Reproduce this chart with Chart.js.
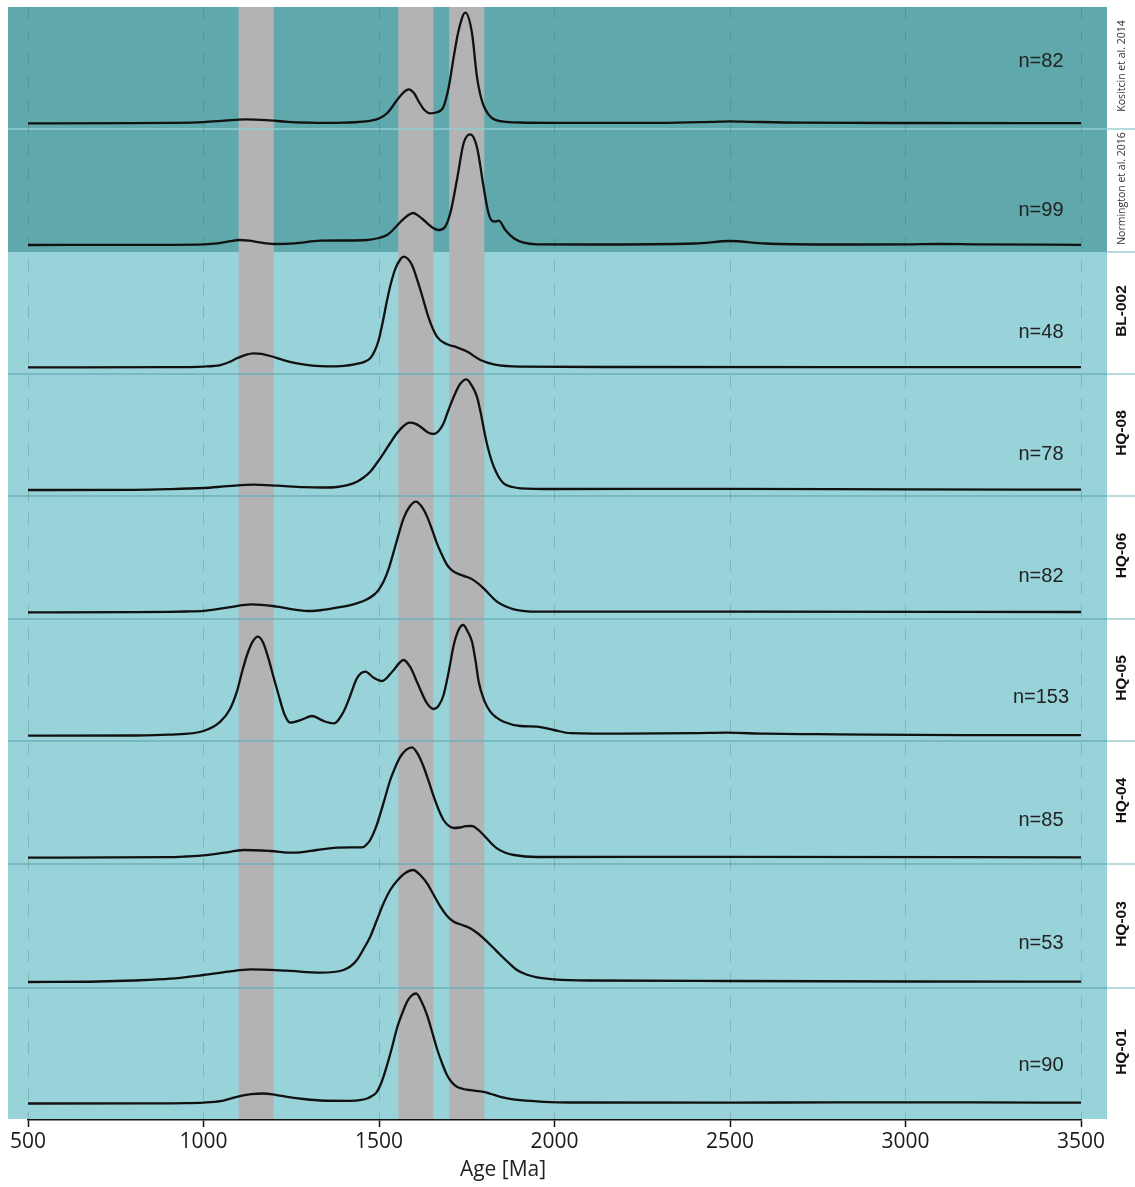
<!DOCTYPE html>
<html><head><meta charset="utf-8">
<script src="https://cdn.jsdelivr.net/npm/chart.js@4.4.1/dist/chart.umd.min.js"></script>
<style>html,body{margin:0;padding:0;background:#fff;}canvas{display:block;}</style>
</head><body>
<canvas id="c" width="1135" height="1187"></canvas>
<script>
// ---------- data ----------
const panelNames = ["Kositcin et al. 2014", "Normington et al. 2016", "BL-002", "HQ-08", "HQ-06", "HQ-05", "HQ-04", "HQ-03", "HQ-01"];
const sampleCounts = [82, 99, 48, 78, 82, 153, 85, 53, 90];
const ageTicks = [500, 1000, 1500, 2000, 2500, 3000, 3500];
const highlightBands = [[1100, 1200], [1555, 1655], [1700, 1800]];

const agesKositcin = [500, 800, 900, 1000, 1060, 1120, 1180, 1240, 1300, 1350, 1400, 1440, 1475, 1500, 1523, 1551, 1570, 1585, 1600, 1613, 1630, 1646, 1665, 1684, 1699, 1713, 1727, 1746, 1765, 1779, 1794, 1817, 1855, 1900, 2000, 2300, 2450, 2500, 2560, 2700, 3000, 3500];
const densKositcin = [0, 0.1, 0.4, 1.2, 2.6, 4, 3.2, 1.4, 0.6, 0.4, 0.7, 1.3, 2.5, 4.8, 10, 23, 31, 34, 30, 22, 13, 10, 11, 16.7, 36.7, 66.7, 93, 110.6, 90, 46.7, 21.7, 6.7, 1.7, 0.8, 0.5, 0.5, 1.5, 2, 1.5, 0.6, 0.3, 0.2];

const agesNormington = [500, 900, 1000, 1040, 1076, 1101, 1130, 1160, 1201, 1260, 1333, 1400, 1466, 1500, 1523, 1545, 1561, 1580, 1597, 1613, 1627, 1650, 1670, 1688, 1703, 1722, 1741, 1760, 1779, 1798, 1812, 1822, 1832, 1841, 1860, 1884, 1912, 1950, 2100, 2400, 2500, 2600, 2800, 3000, 3100, 3200, 3500];
const densNormington = [0, 0.2, 0.6, 1.6, 3.8, 5, 4.4, 2.6, 1, 1.6, 4.3, 4.5, 5, 7, 10, 17, 23, 29, 32, 29, 25, 18, 15, 18, 31.7, 65, 101.7, 110.7, 98, 58, 31.7, 24.3, 23.5, 24.3, 15, 6.7, 2.3, 0.7, 0.5, 1.5, 4, 1.5, 0.5, 0.6, 1, 0.6, 0.2];

const agesBL002 = [500, 900, 1000, 1048, 1072, 1095, 1120, 1143, 1165, 1190, 1230, 1266, 1310, 1352, 1400, 1430, 1460, 1475, 1487, 1499, 1510, 1523, 1534, 1547, 1561, 1570, 1582, 1594, 1618, 1642, 1665, 1694, 1722, 1751, 1789, 1827, 1903, 2200, 3500];
const densBL002 = [0, 0.1, 0.7, 2.2, 5, 9, 12.5, 14, 13.4, 11.3, 7, 4, 1.7, 0.9, 1.5, 3, 5.7, 9, 15.7, 27, 44, 67, 84, 99, 108, 110.7, 108.5, 102.3, 77.3, 49, 30.7, 23, 20, 15.7, 7.3, 3, 0.7, 0.3, 0.2];

const agesHQ08 = [500, 800, 900, 1000, 1070, 1143, 1210, 1285, 1340, 1380, 1410, 1437, 1456, 1475, 1494, 1513, 1532, 1551, 1570, 1587, 1603, 1618, 1640, 1656, 1670, 1684, 1698, 1713, 1731, 1749, 1765, 1779, 1791, 1803, 1815, 1827, 1841, 1855, 1880, 1903, 2000, 2500, 3000, 3500];
const densHQ08 = [0, 0.2, 0.8, 2, 3.8, 5.3, 4.3, 2.8, 2.5, 3, 4.8, 8.3, 12.5, 18.3, 27, 36.7, 47, 56.7, 64, 67.3, 66.3, 63.3, 57.5, 56, 59, 66.7, 80, 93.3, 106, 110.7, 104, 93.3, 75, 53.3, 36, 23.3, 13, 6.7, 3, 1.7, 1, 1.2, 0.6, 0.4];

const agesHQ06 = [500, 800, 900, 950, 1000, 1067, 1138, 1209, 1260, 1304, 1340, 1380, 1410, 1437, 1462, 1485, 1500, 1513, 1528, 1542, 1556, 1570, 1588, 1605, 1621, 1637, 1651, 1665, 1680, 1694, 1708, 1722, 1740, 1760, 1780, 1798, 1817, 1836, 1860, 1884, 1950, 2500, 3500];
const densHQ06 = [0, 0.1, 0.4, 0.8, 1.5, 4.7, 8, 5.7, 2.7, 1.3, 2.4, 4.7, 6.5, 9, 12.3, 17.3, 23, 30.7, 44, 60.7, 78, 94, 106, 110.7, 106, 95.7, 83, 69, 57, 47.3, 42, 39, 36.5, 34, 29.5, 24, 17, 10.7, 6, 3, 0.7, 0.7, 0.3];

const agesHQ05 = [500, 800, 900, 1000, 1048, 1076, 1095, 1110, 1124, 1140, 1155, 1170, 1185, 1200, 1214, 1230, 1247, 1280, 1309, 1340, 1371, 1399, 1418, 1437, 1461, 1485, 1509, 1540, 1570, 1590, 1608, 1637, 1656, 1670, 1684, 1698, 1713, 1727, 1740, 1753, 1765, 1775, 1784, 1800, 1817, 1835, 1855, 1903, 1950, 1998, 2046, 2200, 2400, 2490, 2600, 2750, 2900, 3200, 3500];
const densHQ05 = [0, 0.2, 1, 4.7, 14, 27, 44, 64, 80.7, 94, 99, 93, 77.3, 58, 40.7, 22, 13, 16, 19.7, 15, 12.3, 24, 40, 57.3, 64, 58, 54.7, 65, 75.7, 68, 54, 32.3, 26.7, 30, 40.7, 63, 90.7, 106, 110.7, 104, 94, 75, 54, 35, 24, 18, 14, 9.7, 9, 5.7, 2.5, 2, 2.5, 3, 2, 1.5, 1, 0.6, 0.5];

const agesHQ04 = [500, 900, 950, 1000, 1060, 1114, 1190, 1257, 1323, 1380, 1418, 1452, 1466, 1475, 1490, 1504, 1518, 1532, 1547, 1561, 1578, 1594, 1610, 1627, 1642, 1656, 1670, 1684, 1698, 1713, 1730, 1748, 1765, 1782, 1798, 1817, 1836, 1860, 1884, 1950, 2500, 3500];
const densHQ04 = [0, 0.5, 1.2, 2.3, 5, 7.7, 6.7, 5, 7.7, 10, 10.3, 10.3, 13.7, 17.7, 29.3, 44.3, 61, 77.7, 91, 101, 108, 110.3, 104, 91, 76, 61, 48, 37.7, 32, 29.7, 30.2, 31.5, 31.7, 28, 22.7, 15.5, 9.3, 5, 2.7, 0.7, 0.8, 0.3];

const agesHQ03 = [500, 700, 800, 905, 1000, 1070, 1133, 1238, 1333, 1399, 1420, 1437, 1456, 1475, 1494, 1513, 1532, 1551, 1575, 1597, 1620, 1637, 1656, 1675, 1694, 1713, 1737, 1760, 1780, 1798, 1822, 1846, 1870, 1893, 1920, 1950, 1998, 2100, 2500, 3000, 3500];
const densHQ03 = [0, 0.5, 1.5, 3.3, 7, 10.3, 12.7, 11.3, 9.3, 12, 16, 22, 33, 45.3, 62, 78.7, 92, 101, 109, 112, 106, 98.7, 87, 75.3, 66, 60.3, 57, 53.7, 49, 43.7, 35.5, 27, 19, 12, 7.5, 4.7, 2.7, 1.5, 1, 0.5, 0.3];

const agesHQ01 = [500, 850, 950, 1000, 1048, 1095, 1135, 1171, 1205, 1238, 1285, 1333, 1418, 1450, 1466, 1480, 1494, 1508, 1523, 1537, 1551, 1566, 1580, 1593, 1606, 1621, 1637, 1651, 1665, 1680, 1694, 1708, 1722, 1740, 1760, 1798, 1820, 1846, 1873, 1903, 1969, 2046, 2500, 2800, 3200, 3500];
const densHQ01 = [0, 0.1, 0.4, 0.9, 2.3, 6.7, 9.3, 10, 8.6, 6.7, 4.5, 3, 2.7, 3.6, 5, 7.5, 11.7, 22, 38.3, 56, 75, 90, 101.7, 108, 110, 102, 88.3, 72, 55, 40, 28.3, 21, 16.7, 14.5, 13.3, 11.7, 9.5, 6.7, 4.7, 3.3, 1.7, 1, 0.8, 1.2, 1.2, 0.8];

const panelAges = [agesKositcin, agesNormington, agesBL002, agesHQ08, agesHQ06, agesHQ05, agesHQ04, agesHQ03, agesHQ01];
const panelDens = [densKositcin, densNormington, densBL002, densHQ08, densHQ06, densHQ05, densHQ04, densHQ03, densHQ01];

// ---------- layout / style ----------
const panelHeights = [122, 123, 122, 122, 123, 122, 123, 124, 132];
const panelFloor = [-5.7, -7, -6.7, -6, -6.7, -5.3, -6.3, -6, -16.5];
const nLabelLevel = [62, 35, 35, 36, 36, 38, 37, 39, 38.5];
const DARK = '#5fa8ab', LIGHT = '#98d3d9', BAND = '#b3b3b5';

const panelIds = panelNames.map((_, i) => 'y' + i);
const scales = {
  x: {
    type: 'linear', position: 'bottom', min: 500, max: 3500,
    afterBuildTicks: s => { s.ticks = ageTicks.map(v => ({value: v})); },
    afterFit: s => { s.height = 67; },
    grid: { color: 'rgba(70,100,105,0.28)', lineWidth: 1, drawTicks: true, tickLength: 7, tickColor: '#111', tickWidth: 1.5 },
    border: { display: true, color: '#111', width: 1.5, dash: [12, 11] },
    ticks: { color: '#1a1a1a', padding: 2, font: { family: 'Open Sans', size: 21 }, callback: v => String(v) }
  }
};
panelIds.forEach((id, i) => {
  scales[id] = { type: 'linear', position: 'right', stack: 'panels', stackWeight: panelHeights[i],
    display: false, min: panelFloor[i], max: panelHeights[i] + panelFloor[i] };
});

const datasets = panelDens.map((d, i) => ({
  label: panelNames[i],
  yAxisID: panelIds[i],
  data: panelAges[i].map((a, j) => ({x: a, y: d[j]})),
  borderColor: '#111', borderWidth: 2.3, pointRadius: 0, fill: false,
  cubicInterpolationMode: 'monotone', clip: false
}));

const panelPlugin = {
  id: 'panels',
  beforeDraw(chart) {
    const ctx = chart.ctx, xs = chart.scales.x;
    const L = 8, R = 1107, W = chart.width;
    ctx.save();
    panelIds.forEach((id, i) => {
      const s = chart.scales[id];
      ctx.fillStyle = i < 2 ? DARK : LIGHT;
      ctx.fillRect(L, s.top, R - L, s.bottom - s.top - (i === panelIds.length - 1 ? 1 : 0));
    });
    const top = chart.scales[panelIds[0]].top, bottom = chart.chartArea.bottom - 1;
    ctx.fillStyle = BAND;
    highlightBands.forEach(([a, b]) => {
      const x1 = xs.getPixelForValue(a), x2 = xs.getPixelForValue(b);
      ctx.fillRect(x1, top, x2 - x1, bottom - top);
    });
    ctx.lineWidth = 1.5;
    panelIds.forEach((id, i) => {
      if (i === 0) return;
      const y = chart.scales[id].top;
      if (i !== 2) {
        ctx.strokeStyle = i === 1 ? '#8ccdd2' : '#6db0b6';
        ctx.beginPath(); ctx.moveTo(L, y); ctx.lineTo(R, y); ctx.stroke();
      }
      ctx.strokeStyle = '#9fd0d4';
      ctx.beginPath(); ctx.moveTo(R, y); ctx.lineTo(W, y); ctx.stroke();
    });
    ctx.restore();
  },
  afterDraw(chart) {
    const ctx = chart.ctx;
    ctx.save();
    panelIds.forEach((id, i) => {
      const s = chart.scales[id];
      ctx.fillStyle = '#222';
      ctx.font = '20px "Liberation Sans", Arial, sans-serif';
      ctx.textAlign = 'center';
      ctx.textBaseline = 'middle';
      ctx.fillText('n=' + sampleCounts[i], 1041, s.getPixelForValue(nLabelLevel[i]));
      ctx.save();
      ctx.translate(1122, (s.top + s.bottom) / 2 - 2);
      ctx.rotate(-Math.PI / 2);
      if (i < 2) {
        ctx.font = '10.5px "Open Sans", sans-serif';
        ctx.fillStyle = '#333';
      } else {
        ctx.font = 'bold 15.5px "Liberation Sans", Arial, sans-serif';
        ctx.fillStyle = '#111';
      }
      ctx.fillText(panelNames[i], 0, 0);
      ctx.restore();
    });
    ctx.fillStyle = '#222';
    ctx.font = '21px "Open Sans", sans-serif';
    ctx.textAlign = 'center';
    ctx.textBaseline = 'middle';
    ctx.fillText('Age [Ma]', 503, 1170);
    ctx.restore();
  }
};

new Chart(document.getElementById('c'), {
  type: 'line',
  data: { datasets },
  options: {
    responsive: false, animation: false,
    layout: { padding: { left: 28, right: 54, top: 7, bottom: 0 } },
    plugins: { legend: { display: false }, tooltip: { enabled: false } },
    scales
  },
  plugins: [panelPlugin]
});
</script>
</body></html>
